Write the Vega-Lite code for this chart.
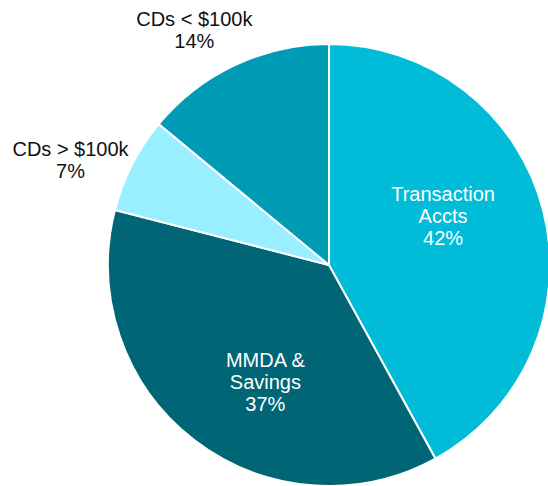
{
  "$schema": "https://vega.github.io/schema/vega-lite/v6.json",
  "width": 442,
  "height": 442,
  "autosize": {"type": "none"},
  "padding": {"left": 108, "top": 44, "right": 0, "bottom": 0},
  "background": "white",
  "view": {"stroke": null},
  "config": {"text": {"font": "Liberation Sans"}},
  "data": {
    "values": [
      {"rank": 1, "segment": "Transaction Accts", "share": 42, "label": "Transaction\nAccts\n42%"},
      {"rank": 2, "segment": "MMDA & Savings", "share": 37, "label": "MMDA &\nSavings\n37%"},
      {"rank": 3, "segment": "CDs > $100k", "share": 7, "label": "CDs > $100k\n7%"},
      {"rank": 4, "segment": "CDs < $100k", "share": 14, "label": "CDs < $100k\n14%"}
    ]
  },
  "encoding": {
    "theta": {"field": "share", "type": "quantitative", "stack": true},
    "order": {"field": "rank", "type": "quantitative"}
  },
  "layer": [
    {
      "mark": {"type": "arc", "outerRadius": 221, "stroke": "white", "strokeWidth": 2},
      "encoding": {
        "color": {
          "field": "segment",
          "type": "nominal",
          "scale": {
            "domain": ["Transaction Accts", "MMDA & Savings", "CDs > $100k", "CDs < $100k"],
            "range": ["#00BCD9", "#006574", "#99EEFF", "#009BB5"]
          },
          "legend": null
        }
      }
    },
    {
      "mark": {"type": "text", "radius": 125, "dx": -7, "dy": -39, "fontSize": 20, "lineBreak": "\n", "fill": "white", "align": "center", "baseline": "middle"},
      "encoding": {"text": {"condition": {"test": "datum.segment === 'Transaction Accts'", "field": "label"}, "value": ""}}
    },
    {
      "mark": {"type": "text", "radius": 125, "dx": 13, "dy": -3, "fontSize": 20, "lineBreak": "\n", "fill": "white", "align": "center", "baseline": "middle"},
      "encoding": {"text": {"condition": {"test": "datum.segment === 'MMDA & Savings'", "field": "label"}, "value": ""}}
    },
    {
      "mark": {"type": "text", "radius": 280, "dx": -9, "dy": 12, "fontSize": 20, "lineBreak": "\n", "fill": "#111111", "align": "center", "baseline": "middle"},
      "encoding": {"text": {"condition": {"test": "datum.segment === 'CDs > $100k'", "field": "label"}, "value": ""}}
    },
    {
      "mark": {"type": "text", "radius": 260, "dx": -24, "dy": -10, "fontSize": 20, "lineBreak": "\n", "fill": "#111111", "align": "center", "baseline": "middle"},
      "encoding": {"text": {"condition": {"test": "datum.segment === 'CDs < $100k'", "field": "label"}, "value": ""}}
    }
  ]
}
